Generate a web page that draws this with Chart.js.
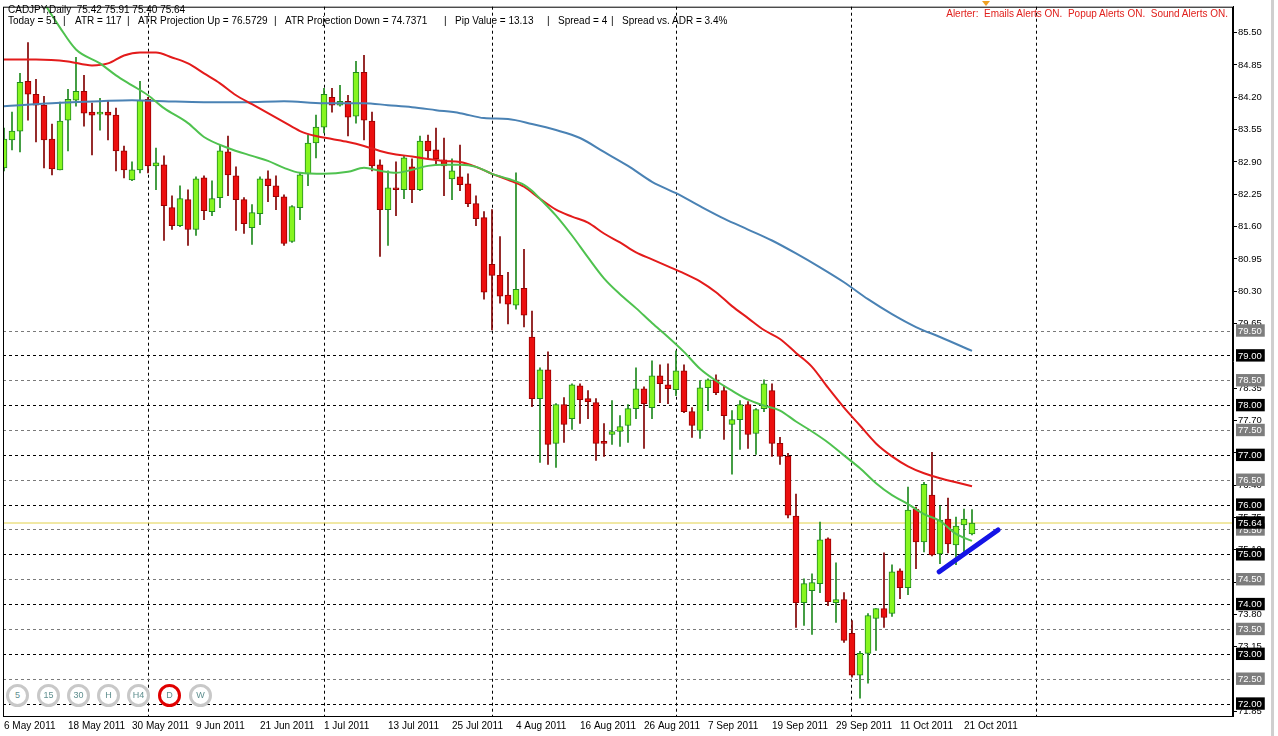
<!DOCTYPE html>
<html lang="en">
<head>
  <meta charset="UTF-8" />
  <title>CADJPY,Daily</title>
  <style>
    html, body { margin: 0; padding: 0; background: #fff; }
    body {
      width: 1278px;
      height: 736px;
      overflow: hidden;
      position: relative;
      font-family: "Liberation Sans", Arial, sans-serif;
    }
    #chart { position: absolute; left: 0; top: 0; }
    .info { position: absolute; font-size: 10px; color: #000; white-space: pre; line-height: 12px; }
    .alert { position: absolute; right: 50px; top: 8px; color: #e0201c; font-size: 10px; white-space: pre; }
    .mark { position: absolute; left: 982px; top: 1px; width: 0; height: 0;
      border-left: 4px solid transparent; border-right: 4px solid transparent; border-top: 5px solid #f0a020; }
    .tf {
      position: absolute; top: 684px; width: 17px; height: 17px;
      border: 3px solid #c8c8c8; border-radius: 50%; background: #fff;
      font-size: 9px; color: #5f8f8f; text-align: center; line-height: 17px;
    }
    .tf.on { border-color: #e00000; }
    .scroll { position: absolute; left: 1271px; top: 0; width: 3px; height: 736px; background: #cfcfcf; }
  </style>
</head>
<body>
  <canvas id="chart" width="1278" height="736"></canvas>

  <div class="info" style="left:8px; top:4px;">CADJPY,Daily  75.42 75.91 75.40 75.64</div>
  <div class="info" style="left:8px; top:15px;">Today = 51</div>
  <div class="info" style="left:63px; top:15px;">|</div>
  <div class="info" style="left:75px; top:15px;">ATR = 117</div>
  <div class="info" style="left:127px; top:15px;">|</div>
  <div class="info" style="left:138px; top:15px;">ATR Projection Up = 76.5729</div>
  <div class="info" style="left:274px; top:15px;">|</div>
  <div class="info" style="left:285px; top:15px;">ATR Projection Down = 74.7371</div>
  <div class="info" style="left:444px; top:15px;">|</div>
  <div class="info" style="left:455px; top:15px;">Pip Value = 13.13</div>
  <div class="info" style="left:547px; top:15px;">|</div>
  <div class="info" style="left:558px; top:15px;">Spread = 4</div>
  <div class="info" style="left:611px; top:15px;">|</div>
  <div class="info" style="left:622px; top:15px;">Spread vs. ADR = 3.4%</div>
  <div class="alert">Alerter:  Emails Alerts ON.  Popup Alerts ON.  Sound Alerts ON.</div>
  <div class="mark"></div>

  <div class="tf" style="left:6px;">5</div>
  <div class="tf" style="left:37px;">15</div>
  <div class="tf" style="left:67px;">30</div>
  <div class="tf" style="left:97px;">H</div>
  <div class="tf" style="left:127px;">H4</div>
  <div class="tf on" style="left:158px;">D</div>
  <div class="tf" style="left:189px;">W</div>
  <div class="scroll"></div>

  <script src="https://cdn.jsdelivr.net/npm/chart.js"></script>
  <script>
    // daily candles, 6 May 2011 .. 24 Oct 2011 (weekdays)
    const opens = [
      82.78, 83.34, 83.52, 84.52, 84.26, 84.04, 83.36, 82.74, 83.74, 84.14,
      84.32, 83.90, 83.86, 83.90, 83.84, 83.12, 82.54, 82.74, 84.16, 82.82,
      82.84, 81.98, 81.62, 82.14, 81.54, 82.58, 81.90, 82.18, 83.10, 82.62,
      82.14, 81.58, 81.86, 82.56, 82.42, 82.20, 81.30, 81.98, 82.66, 83.28,
      83.60, 84.20, 84.04, 84.12, 83.82, 84.70, 83.72, 82.84, 81.94, 82.38,
      82.34, 82.80, 82.34, 83.32, 83.14, 82.94, 82.56, 82.60, 82.46, 82.06,
      81.78, 80.84, 80.62, 80.22, 80.02, 80.36, 79.38, 78.14, 78.72, 77.24,
      78.02, 77.74, 78.40, 78.14, 78.06, 77.28, 77.42, 77.48, 77.60, 77.94,
      78.34, 77.96, 78.60, 78.42, 78.32, 78.70, 77.88, 77.50, 78.36, 78.52,
      78.30, 77.62, 77.72, 78.02, 77.44, 77.94, 78.30, 77.24, 76.98, 75.78,
      74.04, 74.28, 74.42, 75.32, 74.04, 74.10, 73.42, 72.58, 73.02, 73.72,
      73.92, 73.82, 74.68, 74.34, 75.92, 75.26, 76.20, 75.02, 75.72, 75.20,
      75.60, 75.42
    ];
    const highs = [
      83.58, 83.90, 84.68, 85.30, 84.56, 84.22, 83.66, 84.10, 84.36, 85.00,
      84.64, 84.08, 84.18, 84.12, 83.98, 83.22, 82.90, 84.52, 84.20, 83.18,
      83.02, 82.22, 82.42, 82.34, 82.60, 82.62, 82.52, 83.24, 83.42, 82.80,
      82.18, 82.04, 82.60, 82.72, 82.62, 82.24, 82.02, 82.68, 83.44, 83.84,
      84.38, 84.38, 84.44, 84.24, 84.92, 85.04, 83.90, 82.94, 82.72, 82.90,
      83.02, 82.96, 83.42, 83.44, 83.58, 83.38, 82.96, 83.24, 82.66, 82.22,
      81.90, 81.94, 81.40, 80.68, 82.68, 81.14, 79.90, 78.76, 79.08, 78.04,
      78.16, 78.44, 78.44, 78.30, 78.14, 77.64, 78.10, 77.80, 78.02, 78.76,
      78.38, 78.90, 78.82, 78.84, 79.10, 78.82, 77.96, 78.50, 78.54, 78.62,
      78.40, 77.90, 78.10, 78.08, 77.94, 78.52, 78.44, 77.36, 77.04, 76.22,
      74.52, 74.62, 75.66, 75.34, 74.84, 74.24, 73.68, 73.06, 73.82, 73.92,
      75.04, 74.80, 74.72, 76.36, 75.96, 76.46, 77.06, 75.98, 76.14, 75.76,
      75.92, 75.91
    ];
    const lows = [
      82.72, 83.14, 83.10, 83.74, 83.30, 82.78, 82.64, 82.74, 83.12, 84.02,
      83.62, 83.04, 83.54, 83.34, 82.72, 82.58, 82.52, 82.68, 82.68, 82.34,
      81.32, 81.54, 81.60, 81.22, 81.42, 81.74, 81.82, 81.98, 82.22, 81.52,
      81.46, 81.24, 81.64, 82.10, 81.94, 81.22, 81.28, 81.74, 82.42, 82.98,
      83.48, 83.90, 84.02, 83.42, 83.68, 83.34, 82.72, 81.00, 81.22, 81.82,
      82.16, 82.08, 82.32, 82.98, 82.84, 82.22, 82.14, 82.32, 82.00, 81.62,
      80.14, 79.52, 80.06, 79.64, 79.94, 79.58, 77.98, 76.86, 76.82, 76.76,
      77.26, 77.52, 77.64, 77.74, 76.90, 76.98, 77.22, 77.18, 77.26, 77.74,
      77.14, 77.74, 78.06, 78.04, 78.20, 77.86, 77.36, 77.34, 77.90, 78.22,
      77.32, 76.62, 77.12, 77.14, 77.02, 77.88, 76.98, 76.82, 75.74, 73.54,
      73.58, 73.40, 74.24, 73.98, 73.64, 73.24, 72.54, 72.12, 72.42, 73.08,
      73.54, 73.76, 74.12, 74.20, 74.72, 75.06, 74.98, 74.82, 75.04, 74.80,
      75.04, 75.40
    ];
    const closes = [
      83.36, 83.52, 84.50, 84.26, 84.04, 83.34, 82.76, 83.72, 84.16, 84.32,
      83.88, 83.84, 83.90, 83.84, 83.12, 82.74, 82.74, 84.14, 82.82, 82.88,
      82.02, 81.62, 82.16, 81.54, 82.56, 81.92, 82.16, 83.12, 82.64, 82.14,
      81.66, 81.88, 82.56, 82.42, 82.20, 81.26, 82.00, 82.64, 83.28, 83.60,
      84.26, 84.04, 84.12, 83.80, 84.70, 83.74, 82.82, 81.94, 82.38, 82.34,
      82.98, 82.34, 83.32, 83.12, 82.96, 82.82, 82.72, 82.44, 82.06, 81.76,
      80.28, 80.62, 80.20, 80.04, 80.34, 79.82, 78.14, 78.72, 77.22, 78.02,
      77.62, 78.42, 78.12, 78.08, 77.24, 77.24, 77.48, 77.58, 77.94, 78.34,
      78.04, 78.60, 78.44, 78.34, 78.70, 77.88, 77.60, 78.36, 78.52, 78.26,
      77.80, 77.72, 78.02, 77.42, 77.92, 78.44, 77.24, 76.98, 75.80, 74.04,
      74.42, 74.44, 75.30, 74.06, 74.10, 73.28, 72.58, 73.02, 73.78, 73.92,
      73.74, 74.66, 74.34, 75.90, 75.26, 76.42, 75.00, 75.70, 75.22, 75.58,
      75.72, 75.64
    ];

    // moving averages, read at bar positions
    const greenIdx = [0, 7, 9, 12, 14, 16, 18, 20, 23, 25, 28, 31, 33, 35, 37, 40, 43, 45, 47, 49,
      51, 53, 55, 57, 59, 61, 63, 65, 66, 67, 69, 71, 73, 75, 77, 79, 81, 83, 85, 87,
      89, 91, 93, 95, 97, 99, 101, 103, 105, 107, 109, 111, 113, 115, 117, 119, 121];
    const greenVal = [87.40, 85.60, 85.16, 84.88, 84.64, 84.44, 84.24, 83.98, 83.68, 83.40,
      83.18, 83.02, 82.92, 82.78, 82.68, 82.66, 82.70, 82.78, 82.72, 82.68,
      82.74, 82.82, 82.84, 82.84, 82.80, 82.66, 82.56, 82.44, 82.32, 82.16,
      81.82, 81.42, 80.98, 80.56, 80.24, 79.96, 79.66, 79.38, 79.08, 78.74,
      78.50, 78.30, 78.12, 78.00, 77.90, 77.68, 77.48, 77.26, 77.00, 76.74,
      76.44, 76.20, 76.02, 75.82, 75.68, 75.42, 75.28];

    const redIdx = [0, 4, 8, 11, 13, 15, 17, 19, 21, 23, 25, 27, 29, 31, 33, 35, 37, 39, 41, 43,
      45, 47, 49, 51, 53, 55, 57, 59, 61, 63, 65, 67, 69, 71, 73, 75, 77, 79, 81, 83,
      85, 87, 89, 91, 93, 95, 97, 99, 101, 103, 105, 107, 109, 111, 113, 115, 117, 119, 121];
    const redVal = [84.96, 84.96, 84.92, 84.84, 84.88, 85.04, 85.10, 85.10, 85.00, 84.88,
      84.68, 84.48, 84.24, 84.06, 83.88, 83.70, 83.52, 83.42, 83.36, 83.30,
      83.22, 83.12, 83.05, 83.01, 82.96, 82.92, 82.90, 82.80, 82.66, 82.54,
      82.40, 82.16, 81.94, 81.80, 81.68, 81.46, 81.28, 81.08, 80.94, 80.80,
      80.66, 80.50, 80.28, 80.00, 79.76, 79.52, 79.34, 79.06, 78.78, 78.36,
      77.96, 77.60, 77.24, 76.98, 76.78, 76.64, 76.54, 76.46, 76.38];

    const blueIdx = [0, 6, 12, 16, 20, 25, 30, 35, 40, 45, 48, 51, 54, 57, 60, 63, 66, 69, 72, 75,
      78, 81, 84, 87, 90, 93, 96, 99, 102, 105, 108, 111, 114, 117, 121];
    const blueVal = [84.02, 84.08, 84.12, 84.14, 84.12, 84.10, 84.10, 84.12, 84.08, 84.08,
      84.04, 84.00, 83.94, 83.88, 83.78, 83.76, 83.66, 83.54, 83.38, 83.10,
      82.82, 82.50, 82.27, 82.01, 81.76, 81.54, 81.32, 81.06, 80.78, 80.48,
      80.14, 79.84, 79.58, 79.38, 79.10];

    // hand-drawn trend line and the bid price
    const trendIdx = [116.9, 124.25];
    const trendVal = [74.66, 75.50];
    const bidPrice = 75.64;

    // axis labels
    const dateIdx = [0, 8, 16, 24, 32, 40, 48, 56, 64, 72, 80, 88, 96, 104, 112, 120];
    const dateLabels = ['6 May 2011', '18 May 2011', '30 May 2011', '9 Jun 2011', '21 Jun 2011',
      '1 Jul 2011', '13 Jul 2011', '25 Jul 2011', '4 Aug 2011', '16 Aug 2011', '26 Aug 2011',
      '7 Sep 2011', '19 Sep 2011', '29 Sep 2011', '11 Oct 2011', '21 Oct 2011'];
    const monthIdx = [18, 40, 61, 84, 106, 129];
    const priceTicks = [71.85, 72.50, 73.15, 73.80, 74.45, 75.10, 75.75, 76.40, 77.05, 77.70, 78.35,
      79.00, 79.65, 80.30, 80.95, 81.60, 82.25, 82.90, 83.55, 84.20, 84.85, 85.50];
    const levelLines = [72.00, 72.50, 73.00, 73.50, 74.00, 74.50, 75.00, 75.50, 76.00, 76.50,
      77.00, 77.50, 78.00, 78.50, 79.00, 79.50];

    const X_MIN = -0.125, X_MAX = 153.625;
    const Y_MIN = 71.76, Y_MAX = 86.02;

    const bars = opens.map((o, i) => i);
    const isUp = i => closes[i] >= opens[i];
    const key = v => Math.round(v * 100);
    const levelSet = new Set(levelLines.map(key));
    const monthSet = new Set(monthIdx);

    function toPoints(idx, vals) {
      return idx.map((x, i) => ({ x: x, y: vals[i] }));
    }

    const framePlugin = {
      id: 'frame',
      afterDraw(chart) {
        const a = chart.chartArea, ctx = chart.ctx;
        ctx.save();
        ctx.strokeStyle = '#000';
        ctx.lineWidth = 1;
        ctx.strokeRect(a.left + 0.5, a.top + 0.5, a.right - a.left - 1, a.bottom - a.top);
        ctx.restore();
      }
    };

    new Chart(document.getElementById('chart'), {
      type: 'bar',
      data: {
        datasets: [
          {
            type: 'line', data: toPoints(trendIdx, trendVal),
            borderColor: '#1414e6', borderWidth: 5, borderCapStyle: 'round',
            pointRadius: 0
          },
          {
            type: 'line', data: toPoints(greenIdx, greenVal),
            borderColor: '#4fc24f', borderWidth: 2, pointRadius: 0,
            cubicInterpolationMode: 'monotone'
          },
          {
            type: 'line', data: toPoints(redIdx, redVal),
            borderColor: '#e31b1b', borderWidth: 2, pointRadius: 0,
            cubicInterpolationMode: 'monotone'
          },
          {
            type: 'line', data: toPoints(blueIdx, blueVal),
            borderColor: '#4a82b4', borderWidth: 2, pointRadius: 0,
            cubicInterpolationMode: 'monotone'
          },
          {
            // candle bodies
            data: bars.map(i => ({ x: i, y: [opens[i], closes[i]] })),
            backgroundColor: ctx => isUp(ctx.dataIndex) ? '#86f51f' : '#ec0f0f',
            borderColor: ctx => isUp(ctx.dataIndex) ? '#1f8a1f' : '#9a0000',
            borderWidth: 1,
            borderSkipped: false,
            grouped: false,
            barThickness: 6
          },
          {
            // wicks
            data: bars.map(i => ({ x: i, y: [lows[i], highs[i]] })),
            backgroundColor: ctx => isUp(ctx.dataIndex) ? '#1f8a1f' : '#800000',
            borderWidth: 0,
            grouped: false,
            barThickness: 1
          },
          {
            type: 'line',
            data: [{ x: X_MIN, y: bidPrice }, { x: X_MAX, y: bidPrice }],
            borderColor: '#e3d24a', borderWidth: 1, pointRadius: 0
          }
        ]
      },
      options: {
        responsive: false,
        animation: false,
        layout: { padding: { left: 3, top: 3, right: 0, bottom: 0 } },
        plugins: {
          legend: { display: false },
          tooltip: { enabled: false }
        },
        scales: {
          x: {
            type: 'linear',
            min: X_MIN,
            max: X_MAX,
            offset: false,
            afterBuildTicks(scale) {
              const vals = [...new Set([...dateIdx, ...monthIdx])].sort((a, b) => a - b);
              scale.ticks = vals.map(v => ({ value: v }));
            },
            afterFit(scale) { scale.height = 20; },
            ticks: {
              autoSkip: false,
              maxRotation: 0,
              align: 'start',
              padding: 1,
              color: '#000',
              font: { family: 'Liberation Sans', size: 10 },
              callback: v => {
                const k = dateIdx.indexOf(v);
                return k >= 0 ? dateLabels[k] : '';
              }
            },
            grid: {
              offset: false,
              color: ctx => ctx.tick && monthSet.has(ctx.tick.value) ? '#000' : 'rgba(0,0,0,0)',
              tickColor: 'rgba(0,0,0,0)',
              tickLength: 3
            },
            border: { display: true, color: '#000', dash: [3, 3] }
          },
          y: {
            position: 'right',
            min: Y_MIN,
            max: Y_MAX,
            afterBuildTicks(scale) {
              const vals = priceTicks.filter(v => !levelSet.has(key(v)))
                .concat(levelLines, [bidPrice]);
              scale.ticks = vals.map(v => ({ value: v }));
            },
            afterFit(scale) { scale.width = 45; },
            ticks: {
              autoSkip: false,
              padding: 1,
              font: { family: 'Liberation Sans', size: 9.5 },
              callback: v => v.toFixed(2),
              color: ctx => {
                const k = key(ctx.tick.value);
                return (levelSet.has(k) || k === key(bidPrice)) ? '#fff' : '#000';
              },
              showLabelBackdrop: true,
              backdropPadding: { left: 2, right: 3, top: 1, bottom: 0 },
              backdropColor: ctx => {
                const k = key(ctx.tick.value);
                if (k === key(bidPrice)) return '#000';
                if (levelSet.has(k)) return (k % 100 === 0) ? '#000' : '#7d7d7d';
                return 'rgba(0,0,0,0)';
              }
            },
            grid: {
              color: ctx => {
                if (!ctx.tick) return 'rgba(0,0,0,0)';
                const k = key(ctx.tick.value);
                if (!levelSet.has(k)) return 'rgba(0,0,0,0)';
                return (k % 100 === 0) ? '#000' : '#7a7a7a';
              },
              tickColor: ctx => {
                const k = key(ctx.tick.value);
                return (levelSet.has(k) || k === key(bidPrice)) ? 'rgba(0,0,0,0)' : '#000';
              },
              tickLength: 4
            },
            border: { display: true, color: '#000', dash: [3, 3] }
          }
        }
      },
      plugins: [framePlugin]
    });
  </script>
</body>
</html>
